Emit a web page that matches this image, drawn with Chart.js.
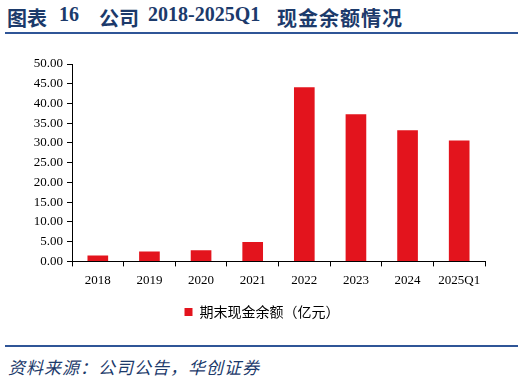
<!DOCTYPE html>
<html>
<head>
<meta charset="utf-8">
<script src="https://cdn.jsdelivr.net/npm/chart.js@4"></script>
<style>
  body { margin: 0; width: 524px; height: 382px; background: #fff; position: relative; overflow: hidden; }
  .t { position: absolute; top: 3px; font: bold 20px "Liberation Serif", "Noto Sans CJK SC", serif; color: #1c3a6b; white-space: nowrap; }
  #titleLine { position: absolute; left: 5px; top: 32px; width: 513px; height: 2px; background: #2f5597; }
  #wrap { position: absolute; left: 0; top: 40px; width: 524px; height: 295px; }
  #srcLine { position: absolute; left: 5px; top: 345px; width: 513px; height: 2px; background: #2f5597; }
  #source { position: absolute; left: 8px; top: 354px; font: italic 17px "Noto Sans CJK SC", sans-serif; color: #1c3a6b; letter-spacing: 1px; }
</style>
</head>
<body>
<div class="t" style="left:7px">图表</div>
<div class="t" style="left:59px">16</div>
<div class="t" style="left:99px">公司</div>
<div class="t" style="left:148px">2018-2025Q1</div>
<div class="t" style="left:277px;letter-spacing:1px">现金余额情况</div>
<div id="titleLine"></div>
<div id="wrap"><canvas id="myChart"></canvas></div>
<div id="srcLine"></div>
<div id="source">资料来源：公司公告，华创证券</div>
<script>
const categories = ["2018", "2019", "2020", "2021", "2022", "2023", "2024", "2025Q1"];
const cashBalance = [1.5, 2.5, 2.8, 4.9, 44.1, 37.3, 33.2, 30.6];
const yTicks = [0, 5, 10, 15, 20, 25, 30, 35, 40, 45, 50];

const myChart = document.getElementById("myChart");

const pintarGrafica = () => {
  new Chart(myChart, {
    type: "bar",
    data: {
      labels: categories,
      datasets: [
        {
          label: "期末现金余额（亿元）",
          data: cashBalance,
          backgroundColor: "#e3141d",
          barPercentage: 0.8,
          categoryPercentage: 0.5,
        },
      ],
    },
    options: {
      responsive: true,
      maintainAspectRatio: false,
      animation: false,
      layout: { padding: { top: 24, right: 0, left: 0, bottom: 6 } },
      plugins: {
        tooltip: { enabled: false },
        legend: {
          position: "bottom",
          labels: {
            boxWidth: 8,
            boxHeight: 8,
            padding: 11,
            color: "#000",
            font: { family: "Noto Sans CJK SC", size: 14 },
          },
        },
      },
      scales: {
        x: {
          grid: { drawOnChartArea: false, drawTicks: true, tickLength: 5, color: "#000" },
          border: { color: "#000" },
          ticks: { color: "#000", padding: 6, font: { family: "Liberation Serif", size: 13 } },
        },
        y: {
          min: 0,
          max: 50,
          afterBuildTicks: (axis) => { axis.ticks = yTicks.map((v) => ({ value: v })); },
          afterFit: (axis) => { axis.width = 72; },
          grid: { drawOnChartArea: false, drawTicks: true, tickLength: 5, color: "#000" },
          border: { color: "#000" },
          ticks: {
            color: "#000",
            padding: 4,
            font: { family: "Liberation Serif", size: 13 },
            callback: (v) => Number(v).toFixed(2),
          },
        },
        // empty right gutter so the legend centres on the whole canvas
        yRight: {
          position: "right",
          afterFit: (axis) => { axis.width = 39; },
          grid: { display: false },
          border: { display: false },
          ticks: { display: false },
        },
      },
    },
  });
};

window.addEventListener("load", pintarGrafica);
</script>
</body>
</html>
